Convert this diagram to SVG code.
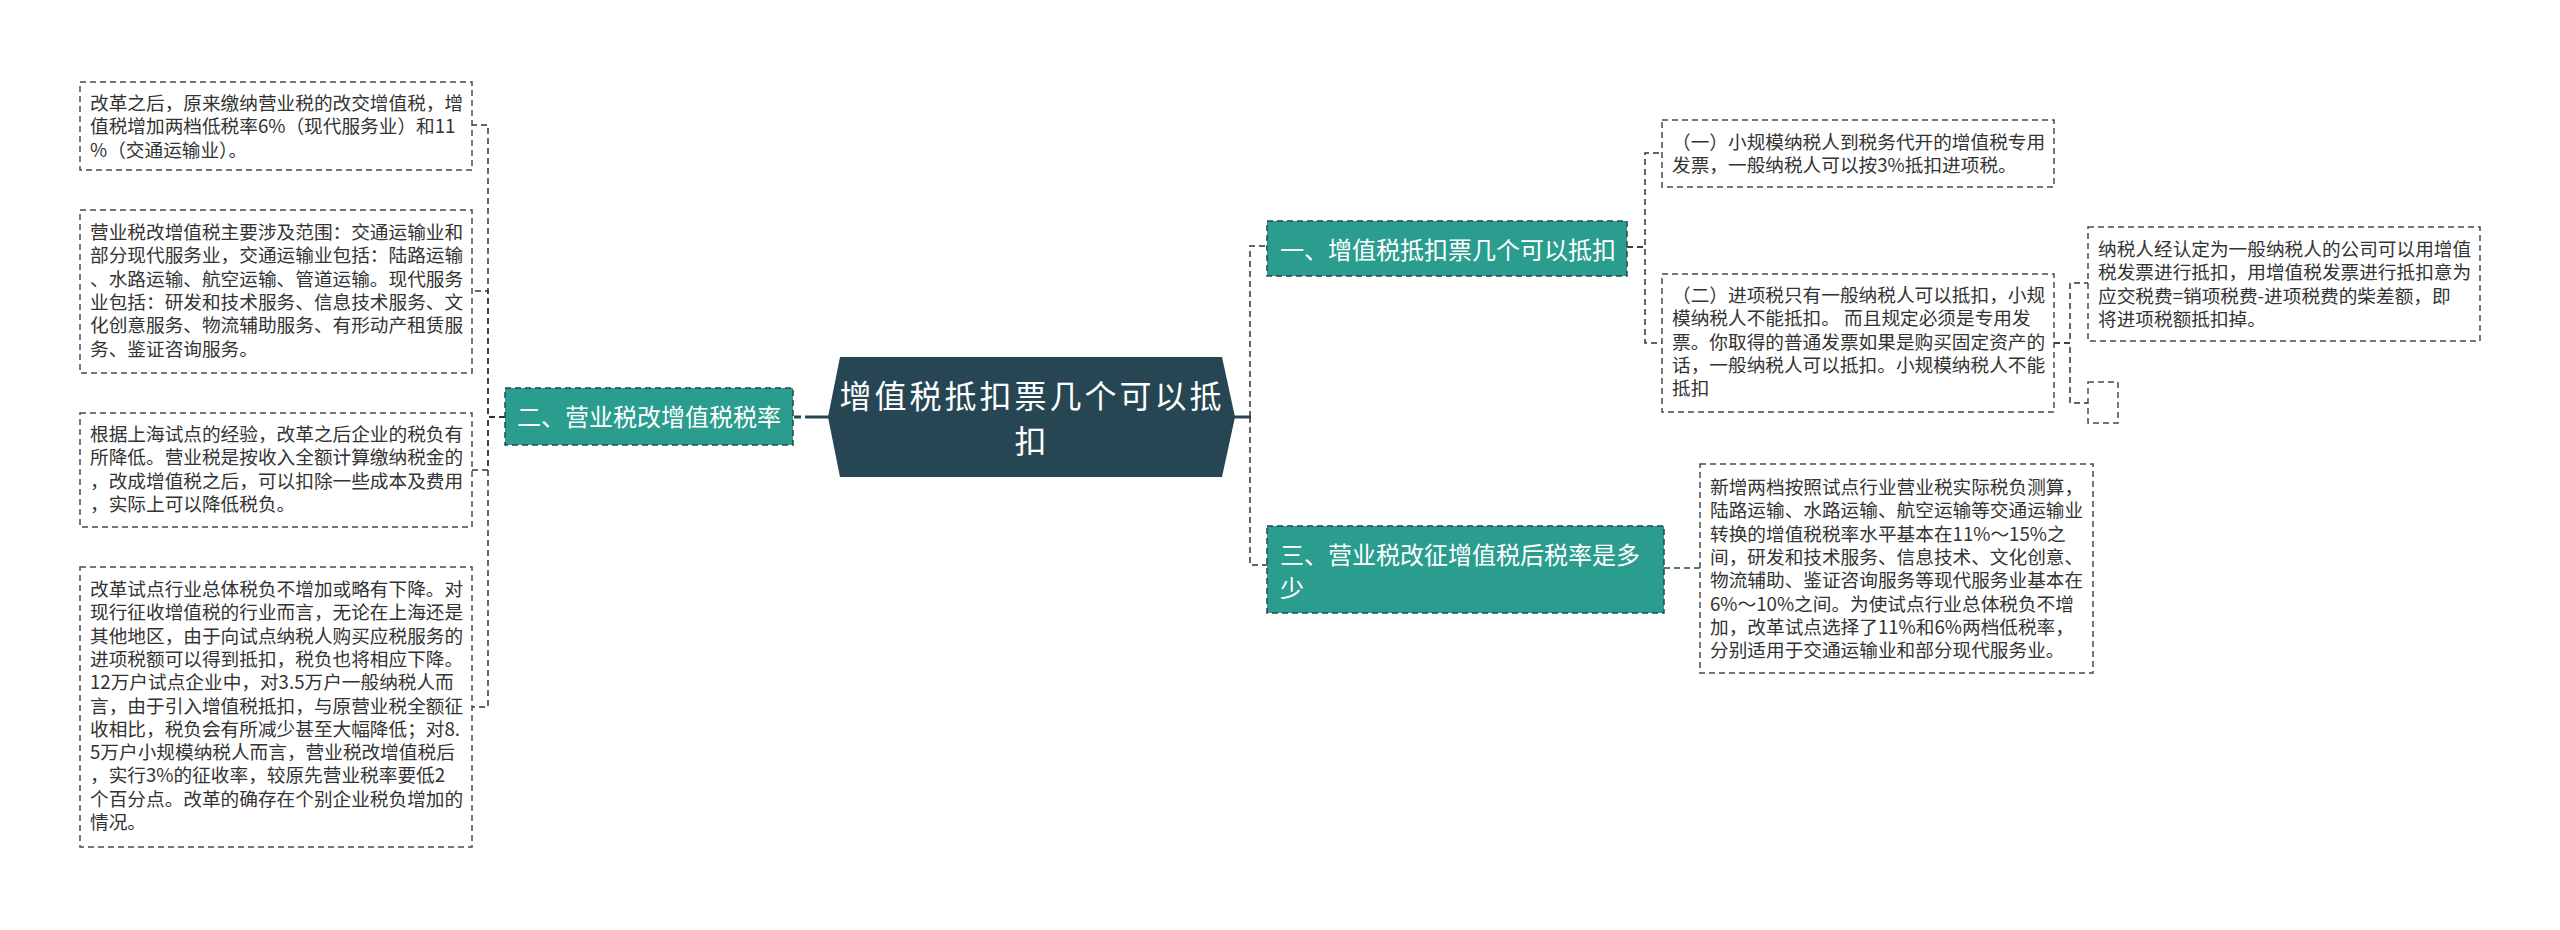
<svg xmlns="http://www.w3.org/2000/svg" width="2560" height="930" viewBox="0 0 2560 930">
<style>
.bg{fill:#ffffff}
.leaf{fill:#ffffff;stroke:#4a4a4a;stroke-width:1.5;stroke-dasharray:6 4}
.lt{font-family:"Noto Sans CJK SC","Noto Sans",sans-serif;font-size:18.67px;fill:#333333}
.br{fill:#2a9d8f;stroke:#264653;stroke-width:1.5;stroke-dasharray:6 4}
.bt{font-family:"Noto Sans CJK SC","Noto Sans",sans-serif;font-size:24px;fill:#ffffff}
.ct{font-family:"Noto Sans CJK SC","Noto Sans",sans-serif;font-size:32px;letter-spacing:3px;fill:#ffffff}
.cn{fill:none;stroke:#333333;stroke-width:1.5;stroke-dasharray:6 4}
.cm{fill:none;stroke:#264653;stroke-width:3}
</style>
<rect class="bg" x="0" y="0" width="2560" height="930"/>
<g id="connectors">
  <line class="cm" x1="794" y1="417" x2="801" y2="417"/>
  <line class="cm" x1="805" y1="417" x2="829" y2="417"/>
  <line class="cm" x1="1234" y1="417" x2="1251" y2="417"/>
  <path class="cn" d="M505 417 H488 V125 H472"/>
  <path class="cn" d="M505 417 H488 V291 H472"/>
  <path class="cn" d="M505 417 H488 V470 H472"/>
  <path class="cn" d="M505 417 H488 V707 H472"/>
  <path class="cn" d="M1250 417 V246 H1267"/>
  <path class="cn" d="M1250 417 V565 H1267"/>
  <path class="cn" d="M1627 247 H1645 V153 H1662"/>
  <path class="cn" d="M1627 247 H1645 V343 H1662"/>
  <path class="cn" d="M2054 343 H2070 V283 H2088"/>
  <path class="cn" d="M2054 343 H2070 V403 H2088"/>
  <line class="cn" x1="1664" y1="568" x2="1700" y2="568" style="stroke:#264653"/>
</g>
<g id="center">
  <polygon points="828,417 840,357 1222,357 1235,417 1222,477 840,477" fill="#264653"/>
  <text class="ct" text-anchor="middle" x="1032" y="408">增值税抵扣票几个可以抵<tspan x="1032" dy="45">扣</tspan></text>
</g>
<g id="branch2">
  <rect class="br" x="505" y="388" width="288" height="57"/>
  <text class="bt" x="517" y="426">二、营业税改增值税税率</text>
</g>
<g id="branch1">
  <rect class="br" x="1267" y="221" width="360" height="55"/>
  <text class="bt" x="1280" y="259">一、增值税抵扣票几个可以抵扣</text>
</g>
<g id="branch3">
  <rect class="br" x="1267" y="526" width="397" height="87"/>
  <text class="bt" x="1280" y="564">三、营业税改征增值税后税率是多<tspan x="1280" dy="33">少</tspan></text>
</g>
<g id="leafL1">
  <rect class="leaf" x="80" y="82" width="392" height="88"/>
  <text class="lt" x="90" y="110">改革之后，原来缴纳营业税的改交增值税，增<tspan x="90" dy="23.3">值税增加两档低税率6%（现代服务业）和11</tspan><tspan x="90" dy="23.3">%（交通运输业）。</tspan></text>
</g>
<g id="leafL2">
  <rect class="leaf" x="80" y="210" width="392" height="163"/>
  <text class="lt" x="90" y="239">营业税改增值税主要涉及范围：交通运输业和<tspan x="90" dy="23.3">部分现代服务业，交通运输业包括：陆路运输</tspan><tspan x="90" dy="23.3">、水路运输、航空运输、管道运输。现代服务</tspan><tspan x="90" dy="23.3">业包括：研发和技术服务、信息技术服务、文</tspan><tspan x="90" dy="23.3">化创意服务、物流辅助服务、有形动产租赁服</tspan><tspan x="90" dy="23.3">务、鉴证咨询服务。</tspan></text>
</g>
<g id="leafL3">
  <rect class="leaf" x="80" y="413" width="392" height="114"/>
  <text class="lt" x="90" y="441">根据上海试点的经验，改革之后企业的税负有<tspan x="90" dy="23.3">所降低。营业税是按收入全额计算缴纳税金的</tspan><tspan x="90" dy="23.3">，改成增值税之后，可以扣除一些成本及费用</tspan><tspan x="90" dy="23.3">，实际上可以降低税负。</tspan></text>
</g>
<g id="leafL4">
  <rect class="leaf" x="80" y="567" width="392" height="280"/>
  <text class="lt" x="90" y="596">改革试点行业总体税负不增加或略有下降。对<tspan x="90" dy="23.3">现行征收增值税的行业而言，无论在上海还是</tspan><tspan x="90" dy="23.3">其他地区，由于向试点纳税人购买应税服务的</tspan><tspan x="90" dy="23.3">进项税额可以得到抵扣，税负也将相应下降。</tspan><tspan x="90" dy="23.3">12万户试点企业中，对3.5万户一般纳税人而</tspan><tspan x="90" dy="23.3">言，由于引入增值税抵扣，与原营业税全额征</tspan><tspan x="90" dy="23.3">收相比，税负会有所减少甚至大幅降低；对8.</tspan><tspan x="90" dy="23.3">5万户小规模纳税人而言，营业税改增值税后</tspan><tspan x="90" dy="23.3">，实行3%的征收率，较原先营业税率要低2</tspan><tspan x="90" dy="23.3">个百分点。改革的确存在个别企业税负增加的</tspan><tspan x="90" dy="23.3">情况。</tspan></text>
</g>
<g id="leafR1">
  <rect class="leaf" x="1662" y="120" width="392" height="67"/>
  <text class="lt" x="1672" y="149">（一）小规模纳税人到税务代开的增值税专用<tspan x="1672" dy="23.3">发票，一般纳税人可以按3%抵扣进项税。</tspan></text>
</g>
<g id="leafR2">
  <rect class="leaf" x="1662" y="274" width="392" height="138"/>
  <text class="lt" x="1672" y="302">（二）进项税只有一般纳税人可以抵扣，小规<tspan x="1672" dy="23.3">模纳税人不能抵扣。 而且规定必须是专用发</tspan><tspan x="1672" dy="23.3">票。你取得的普通发票如果是购买固定资产的</tspan><tspan x="1672" dy="23.3">话，一般纳税人可以抵扣。小规模纳税人不能</tspan><tspan x="1672" dy="23.3">抵扣</tspan></text>
</g>
<g id="leafR2a">
  <rect class="leaf" x="2088" y="227" width="392" height="114"/>
  <text class="lt" x="2098" y="256">纳税人经认定为一般纳税人的公司可以用增值<tspan x="2098" dy="23.3">税发票进行抵扣，用增值税发票进行抵扣意为</tspan><tspan x="2098" dy="23.3">应交税费=销项税费-进项税费的柴差额，即</tspan><tspan x="2098" dy="23.3">将进项税额抵扣掉。</tspan></text>
</g>
<g id="leafR2b">
  <rect class="leaf" x="2088" y="382" width="30" height="41"/>
</g>
<g id="leafR3">
  <rect class="leaf" x="1700" y="464" width="393" height="209"/>
  <text class="lt" x="1710" y="494">新增两档按照试点行业营业税实际税负测算，<tspan x="1710" dy="23.3">陆路运输、水路运输、航空运输等交通运输业</tspan><tspan x="1710" dy="23.3">转换的增值税税率水平基本在11%～15%之</tspan><tspan x="1710" dy="23.3">间，研发和技术服务、信息技术、文化创意、</tspan><tspan x="1710" dy="23.3">物流辅助、鉴证咨询服务等现代服务业基本在</tspan><tspan x="1710" dy="23.3">6%～10%之间。为使试点行业总体税负不增</tspan><tspan x="1710" dy="23.3">加，改革试点选择了11%和6%两档低税率，</tspan><tspan x="1710" dy="23.3">分别适用于交通运输业和部分现代服务业。</tspan></text>
</g>
</svg>
